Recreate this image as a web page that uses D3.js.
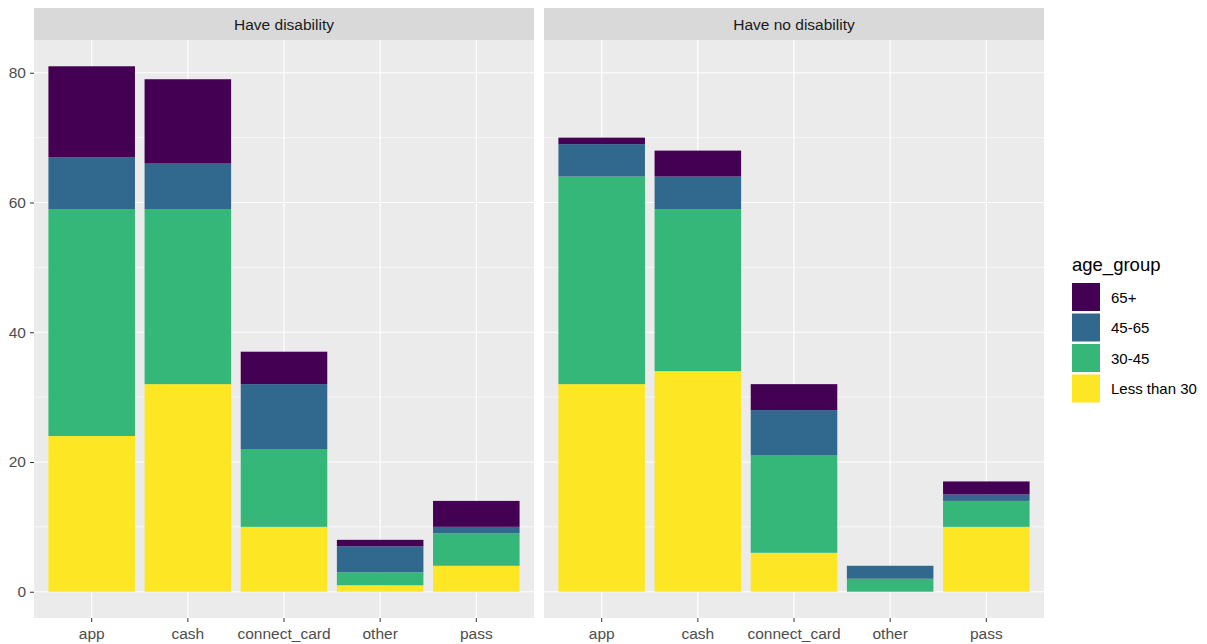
<!DOCTYPE html>
<html>
<head>
<meta charset="utf-8">
<script src="https://cdn.jsdelivr.net/npm/d3@7"></script>
<style>
  body { margin: 0; background: #fff; }
  text { font-family: "Liberation Sans", Arial, sans-serif; }
</style>
</head>
<body>
<svg id="chart" width="1207" height="644"></svg>
<script>
// categories and groups
const payTypes = ['app', 'cash', 'connect_card', 'other', 'pass'];
const panels = ['Have disability', 'Have no disability'];
const ageGroups = ['Less than 30', '30-45', '45-65', '65+'];
const legendOrder = ['65+', '45-65', '30-45', 'Less than 30'];
const ageColors = ['#FDE725', '#35B779', '#31688E', '#440154'];
const yTicks = [0, 20, 40, 60, 80];
const yMinor = [10, 30, 50, 70];

// counts per pay type, one array per age group (app, cash, connect_card, other, pass)
const disLess30 = [24, 32, 10, 1, 4];
const dis30to45 = [35, 27, 12, 2, 5];
const dis45to65 = [8, 7, 10, 4, 1];
const dis65plus = [14, 13, 5, 1, 4];

const noLess30 = [32, 34, 6, 0, 10];
const no30to45 = [32, 25, 15, 2, 4];
const no45to65 = [5, 5, 7, 2, 1];
const no65plus = [1, 4, 4, 0, 2];

const panelSeries = [
    [disLess30, dis30to45, dis45to65, dis65plus],
    [noLess30, no30to45, no45to65, no65plus],
];

const svg = d3.select('#chart');

const plotTop = 40;
const plotBottom = 618;
const stripTop = 8;
const panelX = [34, 544];
const panelW = 500;
const axisFont = 15.5;

const color = d3.scaleOrdinal().domain(ageGroups).range(ageColors);

function rowsFor(series)
{
    return payTypes.map((p, i) =>
    {
        const row = { pay: p };
        ageGroups.forEach((g, k) => { row[g] = series[k][i]; });
        return row;
    });
}

const allRows = panelSeries.map(rowsFor);
const maxTotal = d3.max(allRows.flat(), (r) => d3.sum(ageGroups, (g) => r[g]));
const pad = maxTotal * 0.05;

const y = d3.scaleLinear()
    .domain([-pad, maxTotal + pad])
    .range([plotBottom, plotTop]);

const stack = d3.stack().keys(ageGroups);

panels.forEach((name, pi) =>
{
    const x0 = panelX[pi];
    // ggplot-style discrete axis: 0.6 units expansion, bar width 0.9
    const x = d3.scaleBand()
        .domain(payTypes)
        .range([x0, x0 + panelW])
        .paddingInner(0.1)
        .paddingOuter(0.15);

    const g = svg.append('g');

    // panel background
    g.append('rect')
        .attr('x', x0).attr('y', plotTop)
        .attr('width', panelW).attr('height', plotBottom - plotTop)
        .attr('fill', '#EBEBEB');

    // minor grid
    g.selectAll('.minor').data(yMinor).join('line')
        .attr('x1', x0).attr('x2', x0 + panelW)
        .attr('y1', (d) => y(d)).attr('y2', (d) => y(d))
        .attr('stroke', '#fff').attr('stroke-width', 0.6);

    // major grid
    g.selectAll('.major').data(yTicks).join('line')
        .attr('x1', x0).attr('x2', x0 + panelW)
        .attr('y1', (d) => y(d)).attr('y2', (d) => y(d))
        .attr('stroke', '#fff').attr('stroke-width', 1.2);

    g.selectAll('.vgrid').data(payTypes).join('line')
        .attr('x1', (d) => x(d) + x.bandwidth() / 2)
        .attr('x2', (d) => x(d) + x.bandwidth() / 2)
        .attr('y1', plotTop).attr('y2', plotBottom)
        .attr('stroke', '#fff').attr('stroke-width', 1.2);

    // stacked bars
    const layers = stack(allRows[pi]);
    g.selectAll('.layer').data(layers).join('g')
        .attr('fill', (d) => color(d.key))
        .selectAll('rect')
        .data((d) => d)
        .join('rect')
        .attr('x', (d) => x(d.data.pay))
        .attr('width', x.bandwidth())
        .attr('y', (d) => y(d[1]))
        .attr('height', (d) => Math.max(0, y(d[0]) - y(d[1])));

    // strip
    g.append('rect')
        .attr('x', x0).attr('y', stripTop)
        .attr('width', panelW).attr('height', plotTop - stripTop)
        .attr('fill', '#D9D9D9');
    g.append('text')
        .attr('x', x0 + panelW / 2).attr('y', 29.5)
        .attr('text-anchor', 'middle')
        .attr('font-size', axisFont)
        .attr('fill', '#1A1A1A')
        .text(name);

    // x axis
    const xAxis = g.append('g')
        .attr('transform', `translate(0,${plotBottom})`)
        .call(d3.axisBottom(x).tickSize(4).tickPadding(6));
    xAxis.select('.domain').remove();
    xAxis.selectAll('line').attr('stroke', '#333');
    xAxis.selectAll('text').attr('font-size', axisFont).attr('fill', '#4D4D4D')
        .style('font-family', '"Liberation Sans", Arial, sans-serif');

    // y axis on first panel only
    if (pi === 0)
    {
        const yAxis = g.append('g')
            .attr('transform', `translate(${x0},0)`)
            .call(d3.axisLeft(y).tickValues(yTicks).tickSize(4).tickPadding(4));
        yAxis.select('.domain').remove();
        yAxis.selectAll('line').attr('stroke', '#333');
        yAxis.selectAll('text').attr('font-size', axisFont).attr('fill', '#4D4D4D')
            .style('font-family', '"Liberation Sans", Arial, sans-serif');
    }
});

// legend
const legend = svg.append('g').attr('transform', 'translate(1072,0)');
legend.append('text')
    .attr('x', 0).attr('y', 271)
    .attr('font-size', 18.5)
    .attr('fill', '#000')
    .text('age_group');

legend.selectAll('.key').data(legendOrder).join('g')
    .attr('transform', (d, i) => `translate(0,${283 + i * 30.5})`)
    .each(function (d)
    {
        const k = d3.select(this);
        k.append('rect')
            .attr('width', 28).attr('height', 28)
            .attr('fill', color(d));
        k.append('text')
            .attr('x', 39).attr('y', 19.5)
            .attr('font-size', 15)
            .attr('fill', '#000')
            .text(d);
    });
</script>
</body>
</html>
